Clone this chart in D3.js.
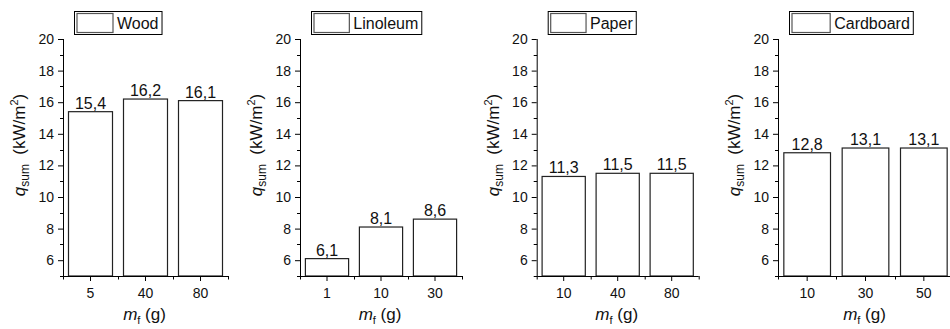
<!DOCTYPE html>
<html>
<head>
<meta charset="utf-8">
<script src="https://cdn.jsdelivr.net/npm/d3@7"></script>
<style>
  html, body { margin: 0; padding: 0; background: #fff; }
  svg { display: block; font-family: Arial, "Liberation Sans", sans-serif; }
</style>
</head>
<body>
<svg id="chart" width="950" height="329"></svg>
<script>
// ---------------- data ----------------
const panelNames = ["Wood", "Linoleum", "Paper", "Cardboard"];
const woodMass = ["5", "40", "80"];
const woodQ = [15.4, 16.2, 16.1];
const linoleumMass = ["1", "10", "30"];
const linoleumQ = [6.1, 8.1, 8.6];
const paperMass = ["10", "40", "80"];
const paperQ = [11.3, 11.5, 11.5];
const cardboardMass = ["10", "30", "50"];
const cardboardQ = [12.8, 13.1, 13.1];
const yMajorTicks = [6, 8, 10, 12, 14, 16, 18, 20];
const yMinorTicks = [5, 7, 9, 11, 13, 15, 17, 19];
const yDomain = [5, 20];

const panelMass = [woodMass, linoleumMass, paperMass, cardboardMass];
const panelQ = [woodQ, linoleumQ, paperQ, cardboardQ];

// ---------------- layout ----------------
const axisLeftX = [63, 300, 536.7, 778];
const axisWidth = [165, 162, 162, 175];
const yTop = 39, yBottom = 276;
const tickFont = 14;

const svg = d3.select("#chart");
const y = d3.scaleLinear().domain(yDomain).range([yBottom, yTop]);
const fmt = v => String(v.toFixed(1)).replace(".", ",");

panelNames.forEach((name, i) => {
  const x0 = axisLeftX[i], w = axisWidth[i];
  const g = svg.append("g").attr("transform", `translate(${x0},0)`);
  const x = d3.scaleBand().domain(panelMass[i]).range([0, w])
    .paddingInner(0.2).paddingOuter(0.1);
  const step = x.step();
  const data = panelMass[i].map((m, k) => ({ m, q: panelQ[i][k] }));

  // bars
  g.selectAll("rect.bar").data(data).enter().append("rect")
    .attr("class", "bar")
    .attr("x", d => x(d.m))
    .attr("width", x.bandwidth())
    .attr("y", d => y(d.q))
    .attr("height", d => y(yDomain[0]) - y(d.q))
    .attr("fill", "#fff")
    .attr("stroke", "#222")
    .attr("stroke-width", 1.2);

  // value labels
  g.selectAll("text.val").data(data).enter().append("text")
    .attr("class", "val")
    .attr("x", d => x(d.m) + x.bandwidth() / 2)
    .attr("y", d => y(d.q) - 3)
    .attr("text-anchor", "middle")
    .attr("font-size", 16)
    .attr("fill", "#111")
    .text(d => fmt(d.q));

  // y axis
  const yAxis = d3.axisLeft(y).tickValues(yMajorTicks).tickSize(5)
    .tickSizeOuter(0).tickPadding(4).tickFormat(d3.format("d"));
  const ya = g.append("g").call(yAxis);
  ya.select(".domain").attr("stroke", "#000").attr("stroke-width", 1)
    .attr("d", `M0.5,${yTop}V${yBottom}`);
  ya.selectAll(".tick line").attr("stroke", "#000");
  ya.selectAll(".tick text").attr("font-size", tickFont).attr("fill", "#111")
    .attr("font-family", "Arial, 'Liberation Sans', sans-serif");
  g.selectAll("line.yminor").data(yMinorTicks).enter().append("line")
    .attr("class", "yminor")
    .attr("x1", -3).attr("x2", 0.5)
    .attr("y1", d => Math.round(y(d)) + 0.5).attr("y2", d => Math.round(y(d)) + 0.5)
    .attr("stroke", "#000");

  // x axis
  const xAxis = d3.axisBottom(x).tickSize(5).tickSizeOuter(0).tickPadding(7);
  const xa = g.append("g").attr("transform", `translate(0,${yBottom})`).call(xAxis);
  xa.select(".domain").attr("stroke", "#000").attr("d", `M0.5,0.5H${w}`);
  xa.selectAll(".tick line").attr("stroke", "#000");
  xa.selectAll(".tick text").attr("font-size", tickFont).attr("fill", "#111")
    .attr("font-family", "Arial, 'Liberation Sans', sans-serif");
  const bounds = d3.range(panelMass[i].length + 1).map(k => k * step);
  g.selectAll("line.xminor").data(bounds).enter().append("line")
    .attr("class", "xminor")
    .attr("x1", d => Math.round(d) + 0.5).attr("x2", d => Math.round(d) + 0.5)
    .attr("y1", yBottom).attr("y2", yBottom + 3.5)
    .attr("stroke", "#000");

  // y title
  const yt = g.append("text")
    .attr("transform", `translate(-38,${145}) rotate(-90)`)
    .attr("text-anchor", "middle")
    .attr("font-size", 17)
    .attr("fill", "#111");
  yt.append("tspan").attr("font-style", "italic").text("q");
  yt.append("tspan").attr("font-size", 12).attr("dy", 4).text("sum");
  yt.append("tspan").attr("dy", -4).text("\u00a0\u00a0(kW/m");
  yt.append("tspan").attr("font-size", 11).attr("dy", -7).text("2");
  yt.append("tspan").attr("dy", 7).text(")");

  // x title
  const xt = g.append("text")
    .attr("x", w / 2 - 1).attr("y", 320)
    .attr("text-anchor", "middle")
    .attr("font-size", 17)
    .attr("fill", "#111");
  xt.append("tspan").attr("font-style", "italic").text("m");
  xt.append("tspan").attr("font-size", 11).attr("dy", 4).text("f");
  xt.append("tspan").attr("dy", -4).text(" (g)");

  // legend
  const lg = g.append("g").attr("transform", `translate(11,11)`);
  const sw = 36 * w / 165;
  const lt = lg.append("text").attr("x", 3 + sw + 4).attr("y", 17.5)
    .attr("font-size", 16).attr("fill", "#111").text(name);
  const tw = lt.node().getComputedTextLength();
  lg.insert("rect", "text").attr("x", 0.5).attr("y", 0.5)
    .attr("width", 3 + sw + 4 + tw + 3).attr("height", 23)
    .attr("fill", "#fff").attr("stroke", "#000").attr("stroke-width", 1);
  lg.insert("rect", "text").attr("x", 3).attr("y", 2.5)
    .attr("width", sw).attr("height", 19)
    .attr("fill", "#fff").attr("stroke", "#555").attr("stroke-width", 1.2);
});
</script>
</body>
</html>
